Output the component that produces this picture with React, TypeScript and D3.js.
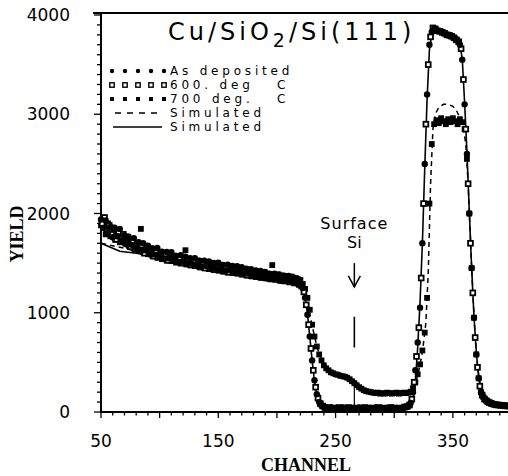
import * as d3 from 'd3'

const W = 508
const H = 476

// RBS spectra, yields. 2-channel grid per series,
// the 600 C run sits on the odd channels.
const CH_STEP = 2
const AS_DEP_START = 50
const C600_START = 51
const C700_START = 50

const asDeposited = [
  1940, 1855, 1930, 1805, 1865, 1760, 1845, 1770, 1845, 1722, // 50
  1780, 1688, 1746, 1684, 1752, 1650, 1710, 1620, 1700, 1630, // 70
  1675, 1587, 1649, 1586, 1653, 1565, 1614, 1548, 1612, 1551, // 90
  1610, 1534, 1573, 1512, 1581, 1520, 1565, 1495, 1550, 1490, // 110
  1550, 1485, 1525, 1465, 1525, 1470, 1516, 1452, 1503, 1449, // 130
  1505, 1436, 1482, 1423, 1484, 1430, 1471, 1412, 1468, 1409, // 150
  1460, 1395, 1445, 1395, 1440, 1375, 1425, 1370, 1420, 1360, // 170
  1410, 1346, 1392, 1343, 1394, 1340, 1386, 1322, 1373, 1319, // 190
  1370, 1315, 1355, 1300, 1340, 1290, 1250, 1150, 980, 760, // 210
  520, 320, 180, 100, 65, 50, 40, 30, 45, 35, // 230
  30, 40, 35, 45, 30, 40, 35, 30, 40, 35, // 250
  45, 30, 40, 35, 30, 40, 35, 45, 30, 40, // 270
  35, 30, 40, 35, 45, 30, 40, 35, 40, 45, // 290
  50, 60, 90, 200, 420, 700, 1050, 1700, 2500, 3200, // 310
  3700, 3830, 3860, 3850, 3840, 3830, 3820, 3810, 3800, 3790, // 330
  3780, 3760, 3740, 3700, 3550, 3100, 2600, 2000, 1450, 950, // 350
  580, 340, 200, 150, 120, 100, 90, 80, 75, 70, // 370
  70, 65, 65, 60, // 390
]

const deg600 = [
  1900, 1960, 1820, 1880, 1790, 1850, 1740, 1815, 1720, 1790, // 51
  1700, 1760, 1665, 1725, 1640, 1700, 1630, 1680, 1600, 1660, // 71
  1610, 1640, 1570, 1625, 1560, 1600, 1545, 1590, 1530, 1580, // 91
  1545, 1560, 1520, 1555, 1505, 1540, 1490, 1530, 1480, 1525, // 111
  1475, 1515, 1460, 1505, 1450, 1495, 1445, 1490, 1435, 1480, // 131
  1430, 1475, 1420, 1465, 1410, 1455, 1405, 1445, 1400, 1440, // 151
  1390, 1430, 1380, 1420, 1370, 1410, 1365, 1400, 1355, 1395, // 171
  1350, 1385, 1340, 1380, 1335, 1370, 1325, 1365, 1320, 1355, // 191
  1310, 1350, 1300, 1330, 1285, 1270, 1210, 1080, 880, 640, // 211
  420, 250, 140, 85, 60, 45, 35, 45, 30, 40, // 231
  35, 45, 30, 40, 35, 45, 30, 40, 35, 30, // 251
  40, 35, 45, 30, 40, 35, 30, 40, 45, 35, // 271
  30, 40, 35, 45, 30, 40, 35, 30, 40, 50, // 291
  55, 70, 130, 300, 560, 850, 1350, 2100, 2900, 3500, // 311
  3780, 3870, 3860, 3840, 3835, 3825, 3815, 3800, 3795, 3785, // 331
  3770, 3750, 3730, 3660, 3350, 2850, 2300, 1700, 1200, 750, // 351
  450, 260, 170, 130, 110, 95, 85, 78, 72, 70, // 371
  68, 64, 62, 60, // 391
]

const deg700 = [
  1880, 1950, 1790, 1900, 1770, 1860, 1735, 1800, 1710, 1790, // 50
  1720, 1770, 1670, 1730, 1650, 1700, 1630, 1845, 1610, 1670, // 70
  1590, 1650, 1570, 1630, 1555, 1610, 1540, 1600, 1525, 1585, // 90
  1520, 1575, 1505, 1560, 1495, 1550, 1630, 1540, 1480, 1530, // 110
  1470, 1525, 1460, 1510, 1450, 1500, 1440, 1495, 1430, 1485, // 130
  1425, 1475, 1415, 1465, 1405, 1460, 1400, 1450, 1395, 1440, // 150
  1385, 1435, 1375, 1425, 1370, 1415, 1360, 1405, 1355, 1400, // 170
  1350, 1395, 1345, 1480, 1340, 1385, 1330, 1375, 1325, 1370, // 190
  1320, 1365, 1310, 1350, 1300, 1330, 1290, 1240, 1150, 1030, // 210
  880, 760, 660, 580, 520, 470, 440, 420, 400, 390, // 230
  380, 375, 365, 360, 355, 345, 330, 310, 290, 270, // 250
  250, 235, 220, 210, 205, 200, 195, 190, 195, 185, // 270
  190, 185, 195, 190, 185, 190, 195, 185, 190, 195, // 290
  190, 195, 205, 240, 300, 380, 480, 620, 800, 1150, // 310
  2100, 2700, 2900, 2940, 2910, 2960, 2930, 2900, 2950, 2920, // 330
  2960, 2930, 2900, 2950, 2920, 2850, 2550, 2000, 1450, 950, // 350
  580, 340, 200, 150, 120, 100, 90, 80, 75, 70, // 370
  70, 65, 65, 60, // 390
]

// simulations
const simSolidCh = [
  50, 58, 66, 80, 100, 120, 140, 160, 180, 200,
  216, 220, 222, 224, 226, 228, 230, 232, 234, 236,
  240, 250, 300, 310, 314, 316, 318, 320, 322, 324,
  326, 328, 330, 332, 334, 340, 350, 354, 356, 358,
  360, 362, 364, 366, 368, 370, 372, 374, 378, 384,
  397,
]
const simSolidY = [
  1700, 1660, 1620, 1600, 1560, 1520, 1480, 1440, 1400, 1360,
  1330, 1310, 1260, 1160, 990, 760, 520, 310, 170, 90,
  40, 30, 30, 35, 50, 120, 300, 650, 1100, 1700,
  2450, 3150, 3650, 3800, 3830, 3820, 3780, 3750, 3700, 3560,
  3120, 2620, 2020, 1450, 960, 600, 350, 210, 120, 80,
  60,
]
const simDashCh = [
  50, 70, 100, 140, 180, 216, 222, 226, 230, 234,
  238, 244, 252, 260, 266, 272, 280, 300, 312, 316,
  320, 324, 327, 329, 331, 333, 335, 338, 342, 346,
  350, 353, 356, 359, 361, 363, 365, 367, 369, 371,
  374, 378, 384, 397,
]
const simDashY = [
  1700, 1650, 1560, 1480, 1400, 1330, 1270, 1120, 870, 660,
  520, 430, 375, 355, 320, 250, 200, 190, 200, 240,
  360, 600, 900, 1400, 2300, 2850, 3000, 3070, 3100, 3100,
  3080, 3040, 2960, 2850, 2700, 2300, 1750, 1200, 760, 460,
  220, 120, 80, 60,
]

const xTickLabels = [50, 150, 250, 350]
const yTickLabels = [0, 1000, 2000, 3000, 4000]
const legendLabels = ['As deposited', '600. deg', '700 deg.', 'Simulated', 'Simulated']

// "Surface Si" marker
const SURFACE_SI_CH = 266
const surfaceStep = [30, 330]
const surfaceBar = [650, 960]
const surfaceArrow = [1500, 1260]

const PLOT_FONT = '"DejaVu Sans", sans-serif'
const SERIF = '"Liberation Serif", serif'

const x = d3.scaleLinear().domain([50, 397]).range([101, 508])
const y = d3.scaleLinear().domain([0, 4000]).range([412, 15])

const toPoints = (vals: number[], start: number) =>
  vals.map((v, i) => [start + i * CH_STEP, v] as [number, number])

const line = d3
  .line<[number, number]>()
  .x((d) => x(d[0]))
  .y((d) => y(d[1]))

const Dot = ({ cx, cy }: { cx: number; cy: number }) => <circle cx={cx} cy={cy} r={3.2} fill="#000" />
const OpenSq = ({ cx, cy }: { cx: number; cy: number }) => (
  <rect x={cx - 2.4} y={cy - 2.4} width={4.8} height={4.8} fill="#fff" stroke="#000" strokeWidth={1.8} />
)
const FullSq = ({ cx, cy }: { cx: number; cy: number }) => (
  <rect x={cx - 2.9} y={cy - 2.9} width={5.8} height={5.8} fill="#000" />
)

export default function App() {
  const ptsAs = toPoints(asDeposited, AS_DEP_START)
  const pts600 = toPoints(deg600, C600_START)
  const pts700 = toPoints(deg700, C700_START)
  const solid = simSolidCh.map((c, i) => [c, simSolidY[i]] as [number, number])
  const dashed = simDashCh.map((c, i) => [c, simDashY[i]] as [number, number])

  const x0 = x(50)
  const y0 = y(0)
  const yTop = y(4000) - 2
  const minorX = d3.range(50, 397, 10)
  const minorY = d3.range(0, 4001, 100)
  const sx = x(SURFACE_SI_CH)

  const legendX = [112, 125, 138, 151, 164]
  const legendY = (i: number) => 71 + i * 14

  return (
    <div style={{ position: 'absolute', left: 0, top: 0 }}>
      <svg width={W} height={H} style={{ display: 'block', background: '#fff' }}>
        {/* frame + axes */}
        <line x1={x0 - 8} x2={W} y1={yTop} y2={yTop} stroke="#000" strokeWidth={2} />
        <line x1={x0} x2={x0} y1={yTop} y2={y0 + 1} stroke="#000" strokeWidth={2} />
        <line x1={x0} x2={W} y1={y0} y2={y0} stroke="#000" strokeWidth={2} />
        {minorX.map((c) => (
          <line key={'xt' + c} x1={x(c)} x2={x(c)} y1={y0} y2={y0 + ((c - 50) % 50 === 0 ? 6 : 3.5)} stroke="#000" strokeWidth={1.3} />
        ))}
        {minorY.map((v) => (
          <line key={'yt' + v} x1={x0 - (v % 1000 === 0 ? 7 : 4)} x2={x0} y1={y(v)} y2={y(v)} stroke="#000" strokeWidth={1.3} />
        ))}
        {yTickLabels.map((v) => (
          <text key={'yl' + v} x={70} y={y(v)} dy="0.36em" textAnchor="end" fontFamily={PLOT_FONT} fontSize={17}>
            {v}
          </text>
        ))}
        {xTickLabels.map((c) => (
          <text key={'xl' + c} x={x(c)} y={447} textAnchor="middle" fontFamily={PLOT_FONT} fontSize={17}>
            {c}
          </text>
        ))}
        <text x={306} y={471} textAnchor="middle" fontFamily={SERIF} fontWeight="bold" fontSize={18}>
          CHANNEL
        </text>
        <text
          transform={`translate(23,234) rotate(-90)`}
          textAnchor="middle"
          fontFamily={SERIF}
          fontWeight="bold"
          fontSize={18}
        >
          YIELD
        </text>

        {/* title */}
        <text x={168} y={40} fontFamily={PLOT_FONT} fontSize={24} letterSpacing={4}>
          Cu/SiO
          <tspan fontSize={19} dy={7}>2</tspan>
          <tspan dy={-7}>/Si(111)</tspan>
        </text>

        {/* simulations */}
        <path d={line(solid) ?? ''} fill="none" stroke="#000" strokeWidth={1.6} />
        <path d={line(dashed) ?? ''} fill="none" stroke="#000" strokeWidth={1.5} strokeDasharray="5,4" />

        {/* data */}
        {pts700.map((d, i) => (
          <FullSq key={'c' + i} cx={x(d[0])} cy={y(d[1])} />
        ))}
        {pts600.map((d, i) => (
          <OpenSq key={'b' + i} cx={x(d[0])} cy={y(d[1])} />
        ))}
        {ptsAs.map((d, i) => (
          <Dot key={'a' + i} cx={x(d[0])} cy={y(d[1])} />
        ))}

        {/* surface Si marker */}
        <line x1={sx} x2={sx} y1={y(surfaceStep[0])} y2={y(surfaceStep[1])} stroke="#000" strokeWidth={1.2} />
        <line x1={sx} x2={sx} y1={y(surfaceBar[0])} y2={y(surfaceBar[1])} stroke="#000" strokeWidth={1.6} />
        <line x1={sx} x2={sx} y1={y(surfaceArrow[0])} y2={y(surfaceArrow[1])} stroke="#000" strokeWidth={1.5} />
        <path
          d={`M${sx - 6},${y(surfaceArrow[1]) - 11} L${sx},${y(surfaceArrow[1])} L${sx + 6},${y(surfaceArrow[1]) - 11}`}
          fill="none"
          stroke="#000"
          strokeWidth={1.5}
        />
        <text x={sx} y={229} textAnchor="middle" fontFamily={PLOT_FONT} fontSize={16} letterSpacing={1}>
          Surface
        </text>
        <text x={sx} y={248} textAnchor="middle" fontFamily={PLOT_FONT} fontSize={16}>
          Si
        </text>

        {/* legend */}
        {legendX.map((lx) => (
          <g key={'lg' + lx}>
            <circle cx={lx} cy={legendY(0)} r={2.2} fill="#000" />
            <rect x={lx - 2.2} y={legendY(1) - 2.2} width={4.4} height={4.4} fill="#fff" stroke="#000" strokeWidth={1.4} />
            <rect x={lx - 2} y={legendY(2) - 2} width={4} height={4} fill="#000" />
          </g>
        ))}
        <line x1={115} x2={161} y1={legendY(3)} y2={legendY(3)} stroke="#000" strokeWidth={1.3} strokeDasharray="6,6" />
        <line x1={113} x2={162} y1={legendY(4)} y2={legendY(4)} stroke="#000" strokeWidth={1.5} />
        {legendLabels.map((t, i) => (
          <text key={'lt' + i} x={170} y={legendY(i) + 4.3} fontFamily={PLOT_FONT} fontSize={12} letterSpacing={3.8}>
            {t}
            {i === 1 || i === 2 ? <tspan x={277}>C</tspan> : null}
          </text>
        ))}
      </svg>
    </div>
  )
}
